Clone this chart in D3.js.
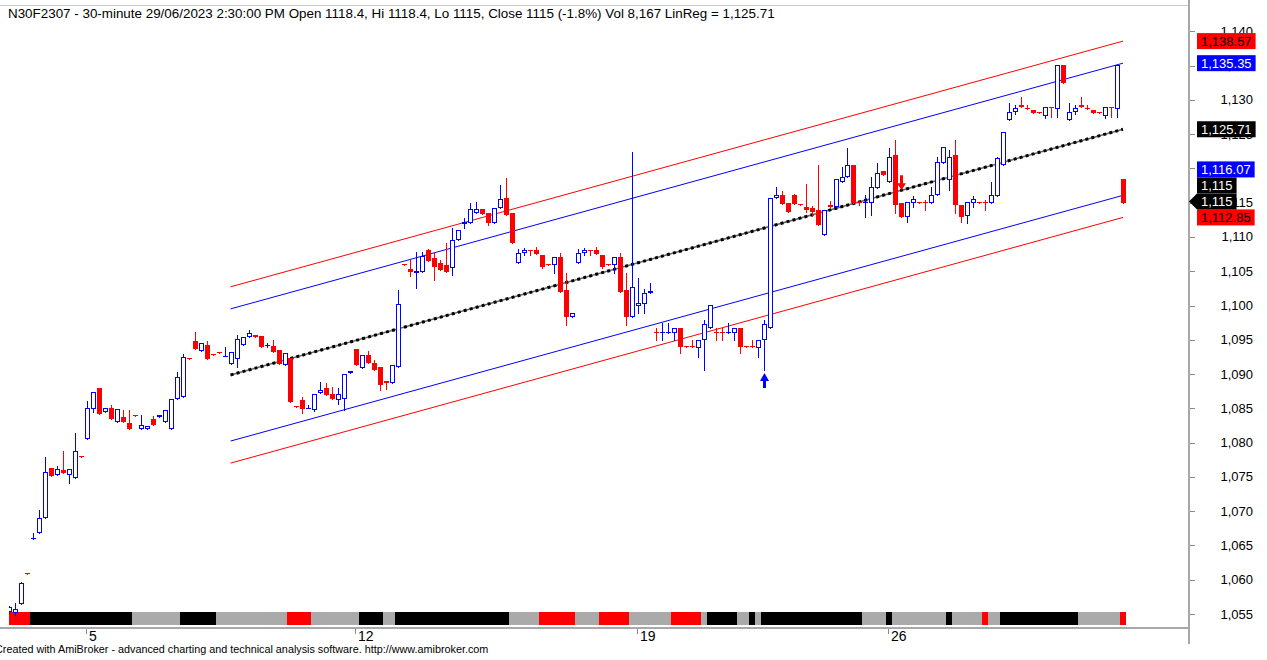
<!DOCTYPE html>
<html>
<head>
<meta charset="utf-8">
<style>
body { margin: 0; background: #fff; }
text { font-family: Arial, "Liberation Sans", sans-serif; }
</style>
</head>
<body>
<svg width="1267" height="660"></svg>
<script src="https://cdn.jsdelivr.net/npm/d3@7/dist/d3.min.js"></script>
<script>

// 30-minute bars, N30F2307, early June -> 29/06/2023 14:30
var opens = [1055.3,1055.2,1056.5,1061.0,1066.0,1066.8,1069.0,1076.3,1075.3,1076.0,
  1075.3,1074.8,1078.0,1080.5,1084.9,1088.0,1084.5,1085.1,1083.0,1083.7,
  1082.9,1084.0,1082.0,1082.0,1083.5,1083.7,1083.0,1082.0,1086.4,1086.7,
  1092.3,1094.8,1093.4,1094.2,1092.9,1093.2,1092.6,1091.5,1092.2,1094.2,
  1095.4,1095.7,1095.6,1094.2,1094.1,1093.5,1091.3,1092.3,1085.3,1086.2,
  1085.0,1084.8,1087.2,1088.0,1087.1,1086.2,1086.4,1090.1,1093.7,1090.9,
  1092.8,1091.6,1091.0,1089.0,1088.7,1091.0,1106.0,1105.3,1104.7,1104.9,
  1108.1,1106.9,1106.2,1105.9,1105.5,1109.6,1111.9,1112.0,1113.5,1114.1,
  1113.5,1112.0,1114.2,1115.7,1113.5,1106.2,1107.7,1108.1,1108.1,1107.4,
  1106.0,1105.9,1107.1,1102.3,1098.3,1106.2,1107.7,1108.1,1108.1,1107.4,
  1106.0,1105.9,1107.1,1102.3,1098.3,1100.0,1100.2,1101.8,1096.1,1096.0,
  1096.0,1096.0,1096.7,1094.1,1094.1,1093.8,1095.0,1096.7,1096.1,1096.1,
  1096.0,1096.0,1096.7,1094.1,1094.1,1093.8,1095.0,1096.7,1115.7,1116.1,
  1114.9,1116.1,1114.8,1114.4,1114.2,1113.9,1110.3,1114.7,1114.4,1118.0,
  1118.8,1120.5,1115.1,1114.9,1115.0,1117.1,1119.6,1118.0,1122.0,1115.0,
  1112.9,1115.0,1115.1,1115.1,1115.0,1116.1,1120.8,1118.3,1122.0,1114.7,
  1113.1,1115.0,1115.1,1115.1,1115.0,1116.0,1120.5,1127.1,1128.2,1129.3,
  1128.8,1128.5,1128.2,1127.6,1128.9,1128.7,1135.1,1127.1,1128.2,1129.3,
  1128.8,1128.5,1128.2,1127.6,1128.9,1128.7,1118.4];
var highs = [1056.2,1056.6,1059.6,1061.0,1066.8,1070.2,1077.9,1076.3,1076.6,1078.8,
  1076.2,1081.4,1078.0,1086.0,1087.4,1088.0,1085.1,1085.5,1084.9,1084.8,
  1084.8,1084.0,1084.0,1082.4,1083.9,1084.0,1084.8,1086.4,1090.3,1092.9,
  1092.3,1096.1,1094.5,1094.8,1092.9,1093.2,1094.0,1093.2,1095.7,1095.4,
  1096.4,1095.7,1095.6,1094.6,1095.0,1093.5,1093.1,1092.3,1085.3,1086.6,
  1085.5,1087.1,1088.8,1088.7,1088.1,1088.0,1090.0,1090.4,1093.7,1092.8,
  1093.3,1092.0,1091.0,1089.0,1091.3,1102.3,1106.0,1106.6,1107.8,1107.8,
  1108.3,1107.8,1106.6,1109.1,1111.3,1111.0,1112.8,1115.0,1115.1,1114.1,
  1113.5,1114.2,1117.6,1118.6,1113.5,1108.3,1108.4,1108.1,1108.6,1107.4,
  1106.0,1107.1,1107.7,1104.7,1098.9,1108.3,1108.4,1108.1,1108.6,1107.4,
  1106.0,1107.1,1107.7,1104.7,1122.4,1104.0,1102.4,1103.3,1096.7,1097.5,
  1097.5,1096.7,1096.7,1094.1,1095.0,1095.0,1097.9,1100.1,1096.7,1096.7,
  1097.5,1096.7,1096.7,1094.1,1095.0,1095.0,1097.9,1115.7,1117.3,1116.7,
  1114.9,1116.3,1114.8,1117.7,1114.5,1120.5,1113.9,1115.3,1118.5,1120.2,
  1123.0,1120.5,1115.3,1116.1,1118.8,1120.8,1119.6,1123.0,1124.2,1115.0,
  1115.1,1116.0,1115.1,1115.4,1117.3,1121.7,1123.1,1122.7,1124.2,1114.7,
  1115.1,1116.0,1115.1,1115.4,1118.0,1121.7,1125.3,1129.5,1129.2,1130.4,
  1129.2,1128.5,1128.2,1129.0,1128.9,1135.1,1135.1,1129.5,1129.2,1130.4,
  1129.2,1128.5,1128.2,1129.0,1128.9,1135.1,1118.4];
var lows = [1055.2,1054.9,1056.4,1060.9,1066.0,1066.8,1069.0,1075.1,1075.3,1075.6,
  1074.1,1074.8,1077.9,1080.5,1084.5,1084.2,1084.5,1083.5,1083.0,1083.0,
  1082.0,1083.9,1082.0,1082.0,1082.6,1083.7,1083.0,1082.0,1086.4,1086.7,
  1092.2,1093.7,1093.4,1092.2,1092.8,1093.1,1092.6,1091.5,1091.0,1094.2,
  1095.4,1095.4,1094.0,1094.0,1093.2,1091.4,1091.3,1085.9,1085.2,1084.3,
  1085.0,1084.6,1087.2,1087.0,1086.4,1085.6,1084.8,1090.1,1091.3,1090.9,
  1091.6,1090.6,1087.7,1087.8,1088.7,1091.0,1105.9,1104.3,1102.6,1104.9,
  1106.5,1103.7,1105.2,1104.9,1104.5,1109.6,1111.3,1112.0,1113.5,1113.4,
  1111.8,1112.0,1114.2,1113.2,1109.1,1106.2,1107.4,1107.4,1107.5,1105.5,
  1105.9,1104.7,1102.0,1097.2,1098.3,1106.2,1107.4,1107.4,1107.5,1105.5,
  1105.9,1104.7,1102.0,1097.2,1098.3,1098.9,1098.9,1101.8,1095.0,1095.0,
  1096.0,1095.0,1093.1,1094.0,1094.0,1092.5,1090.6,1096.7,1095.0,1095.0,
  1096.0,1095.0,1093.1,1094.0,1094.0,1092.5,1090.6,1096.7,1115.7,1114.8,
  1113.6,1114.8,1114.7,1113.6,1113.1,1111.8,1110.3,1114.4,1114.4,1118.0,
  1118.8,1115.0,1114.6,1112.9,1113.2,1117.1,1119.0,1118.0,1113.5,1112.9,
  1112.2,1114.4,1115.0,1113.9,1115.0,1116.1,1120.8,1116.9,1113.5,1112.2,
  1112.0,1114.4,1115.0,1113.9,1115.0,1116.0,1120.5,1127.1,1127.9,1129.0,
  1128.6,1128.1,1128.1,1127.4,1127.5,1127.5,1132.5,1127.1,1127.9,1129.0,
  1128.6,1128.1,1128.1,1127.4,1127.5,1127.5,1115.0];
var closes = [1056.0,1055.7,1059.5,1060.9,1066.1,1069.0,1075.7,1075.1,1076.2,1075.6,
  1076.2,1078.8,1077.9,1085.1,1087.4,1084.2,1085.1,1083.5,1084.9,1083.0,
  1082.0,1083.9,1082.6,1082.4,1082.6,1084.0,1084.8,1086.4,1089.6,1092.5,
  1092.2,1093.7,1094.5,1092.2,1092.8,1093.1,1092.7,1093.2,1095.1,1095.4,
  1096.0,1095.4,1094.0,1094.3,1093.2,1091.4,1093.1,1085.9,1085.2,1084.9,
  1085.1,1087.1,1087.7,1087.0,1086.4,1087.1,1090.0,1090.4,1091.3,1092.8,
  1091.6,1090.6,1088.4,1088.7,1091.3,1100.2,1105.9,1104.9,1105.0,1107.2,
  1106.5,1105.6,1105.2,1104.9,1109.6,1111.0,1112.2,1114.1,1114.1,1113.4,
  1112.0,1114.2,1115.5,1113.2,1109.1,1107.7,1108.1,1107.9,1107.5,1105.6,
  1105.9,1107.1,1102.0,1098.3,1098.9,1107.7,1108.1,1107.9,1107.5,1105.6,
  1105.9,1107.1,1102.0,1098.3,1102.7,1100.3,1101.8,1102.1,1096.0,1096.1,
  1096.1,1096.7,1094.0,1094.0,1094.0,1095.0,1097.3,1100.1,1096.0,1096.0,
  1096.1,1096.7,1094.0,1094.0,1094.0,1095.0,1097.3,1115.7,1116.1,1114.8,
  1113.6,1114.8,1114.7,1113.9,1113.6,1111.8,1113.9,1114.4,1118.5,1118.8,
  1120.5,1115.0,1114.9,1115.1,1117.3,1119.3,1119.0,1121.7,1114.7,1112.9,
  1115.1,1115.6,1115.0,1115.0,1116.1,1120.9,1123.1,1121.7,1114.7,1112.9,
  1115.1,1115.6,1115.0,1115.0,1116.1,1121.5,1125.3,1128.2,1128.8,1129.0,
  1128.6,1128.1,1128.1,1129.0,1128.8,1135.1,1132.5,1128.2,1128.8,1129.0,
  1128.6,1128.1,1128.1,1129.0,1128.8,1135.1,1115.0];

// ribbon under the bars: runs of colour codes and their lengths in bars
var stripCodes = ["r","k","g","k","g","r","g","k","g","k","g","r","g","r","g","r",
                  "g","k","g","k","g","k","g","k","g","k","g","r","g","k","g","r"];
var stripLens = [4,17,8,6,12,4,8,4,2,19,5,6,4,5,7,5,1,5,2,1,1,17,4,1,9,1,5,1,2,13,7,1];

// date axis
var dateBars = [13, 58, 105, 147];
var dateLabels = ["5", "12", "19", "26"];

// price axis
var priceTicks = d3.range(1055, 1141, 5);

// linear regression channel (first bar, last bar, values)
var regFirstBar = 37, regLastBar = 186;
var regFirst = 1089.87, regLast = 1125.71;
var bandEnds = [1138.57, 1135.35, 1116.07, 1112.85];
var bandColors = ["#ff0000", "#0000ff", "#0000ff", "#ff0000"];

// right-hand value labels (low to high)
var tagValues = [1112.85, 1115, 1115, 1116.07, 1125.71, 1135.35, 1138.57];
var tagFills = ["#ff0000", "#000000", "#000000", "#0000ff", "#000000", "#0000ff", "#ff0000"];
var tagArrow = [false, true, false, false, false, false, false];

// buy / sell arrows
var arrowBars = [126, 149];
var arrowDirs = ["up", "down"];

var titleText = "N30F2307 - 30-minute 29/06/2023 2:30:00 PM Open 1118.4, Hi 1118.4, Lo 1115, Close 1115 (-1.8%) Vol 8,167 LinReg = 1,125.71";
var footerText = "Created with AmiBroker - advanced charting and technical analysis software. http://www.amibroker.com";

var BLUE = "#0000ff", RED = "#ff0000", AXIS = "#a8a8a8";
var stripFill = {r: "#ff0000", k: "#000000", g: "#aaaaaa"};

var svg = d3.select("svg");
svg.append("rect").attr("width", 1267).attr("height", 660).attr("fill", "#fff");

var x = d3.scaleLinear().domain([0, opens.length - 1]).range([9, 1123]);
var y = d3.scaleLinear().domain([1055, 1140]).range([614, 31.3]);

svg.append("clipPath").attr("id", "plot")
  .append("rect").attr("x", 9).attr("y", 0).attr("width", 1180).attr("height", 627);

var plot = svg.append("g").attr("clip-path", "url(#plot)");

// ribbon, one run per rect so there are no seams
var strip = plot.append("g").attr("shape-rendering", "crispEdges");
var start = 0;
stripCodes.forEach(function(c, k) {
  var end = start + stripLens[k];
  var x0 = Math.round(x(start) - 3), x1 = Math.round(x(end) - 3);
  strip.append("rect")
    .attr("x", x0).attr("y", 612)
    .attr("width", x1 - x0).attr("height", 13)
    .attr("fill", stripFill[c]);
  start = end;
});

// channel lines
var span = regLast - regFirst;
bandEnds.forEach(function(v, k) {
  plot.append("line")
    .attr("x1", x(regFirstBar)).attr("y1", y(v - span))
    .attr("x2", x(regLastBar)).attr("y2", y(v))
    .attr("stroke", bandColors[k]).attr("stroke-width", 1);
});
plot.append("line")
  .attr("x1", x(regFirstBar)).attr("y1", y(regFirst))
  .attr("x2", x(regLastBar)).attr("y2", y(regLast))
  .attr("stroke", "#666").attr("stroke-width", 1.5);
plot.append("line")
  .attr("x1", x(regFirstBar)).attr("y1", y(regFirst))
  .attr("x2", x(regLastBar)).attr("y2", y(regLast))
  .attr("stroke", "#000").attr("stroke-width", 3)
  .attr("stroke-dasharray", "3,3.2");

// candles
var candles = plot.append("g").attr("shape-rendering", "crispEdges");
opens.forEach(function(o, i) {
  var c = closes[i], h = highs[i], l = lows[i];
  var xc = Math.round(x(i));
  var up = c > o;
  var col = up ? BLUE : RED;
  candles.append("line")
    .attr("x1", xc + 0.5).attr("x2", xc + 0.5)
    .attr("y1", Math.round(y(h))).attr("y2", Math.round(y(l)) + 1)
    .attr("stroke", col);
  var yt = Math.round(y(Math.max(o, c))), yb = Math.round(y(Math.min(o, c)));
  if (yb - yt < 2) {
    candles.append("rect").attr("x", xc - 2).attr("y", yt).attr("width", 5).attr("height", 1).attr("fill", col);
  } else if (up) {
    candles.append("rect").attr("x", xc - 1.5).attr("y", yt + 0.5)
      .attr("width", 4).attr("height", yb - yt - 1)
      .attr("fill", "#fff").attr("stroke", col);
  } else {
    candles.append("rect").attr("x", xc - 2).attr("y", yt)
      .attr("width", 5).attr("height", yb - yt).attr("fill", col);
  }
});

// arrows
arrowBars.forEach(function(b, k) {
  var xc = Math.round(x(b)) + 0.5, t, pts;
  if (arrowDirs[k] === "up") {
    t = y(lows[b]) + 3;
    pts = [[xc, t], [xc + 4.5, t + 8], [xc + 1.5, t + 8], [xc + 1.5, t + 15],
           [xc - 1.5, t + 15], [xc - 1.5, t + 8], [xc - 4.5, t + 8]];
    plot.append("polygon").attr("points", pts.join(" ")).attr("fill", BLUE);
  } else {
    t = y(highs[b]) - 12.5;
    pts = [[xc, t], [xc + 4.5, t - 7], [xc + 1.5, t - 7], [xc + 1.5, t - 15],
           [xc - 1.5, t - 15], [xc - 1.5, t - 7], [xc - 4.5, t - 7]];
    plot.append("polygon").attr("points", pts.join(" ")).attr("fill", RED);
  }
});

// frame lines
svg.append("line").attr("x1", 0).attr("x2", 1189).attr("y1", 5.5).attr("y2", 5.5)
  .attr("stroke", "#c8c8c8").attr("stroke-width", 1);
svg.append("line").attr("x1", 0).attr("x2", 1189).attr("y1", 628).attr("y2", 628)
  .attr("stroke", AXIS).attr("stroke-width", 2);
svg.append("line").attr("x1", 1189).attr("x2", 1189).attr("y1", 0).attr("y2", 644)
  .attr("stroke", AXIS).attr("stroke-width", 2);

// price axis ticks and labels
var fmt = d3.format(",");
var yAxis = svg.append("g");
priceTicks.forEach(function(v) {
  var yy = Math.round(y(v)) + 0.5;
  yAxis.append("line").attr("x1", 1190).attr("x2", 1195).attr("y1", yy).attr("y2", yy)
    .attr("stroke", "#888");
  yAxis.append("text").attr("x", 1253).attr("y", y(v) + 4.5)
    .attr("text-anchor", "end").attr("font-size", 13).attr("fill", "#000")
    .text(fmt(v));
});

// date axis
dateBars.forEach(function(b, k) {
  var xx = Math.round(x(b)) - 0.5;
  svg.append("line").attr("x1", xx).attr("x2", xx).attr("y1", 629).attr("y2", 634)
    .attr("stroke", "#888");
  svg.append("text").attr("x", xx + 2.5).attr("y", 641)
    .attr("font-size", 14).attr("fill", "#000").text(dateLabels[k]);
});

// value tags on the right
var prev = Infinity;
tagValues.forEach(function(v, k) {
  var cy = Math.min(y(v), prev - 16);
  prev = cy;
  var g = svg.append("g");
  var label = k === 1 || k === 2 ? fmt(v) : d3.format(",.2f")(v);
  var tx = g.append("text").attr("x", 1201).attr("y", cy + 4.5)
    .attr("font-size", 13).attr("fill", tagFills[k] === RED ? "#000" : "#fff")
    .text(label);
  var w = tx.node().getComputedTextLength() + 8;
  if (tagArrow[k]) {
    g.insert("polygon", "text")
      .attr("points", [[1189, cy], [1197, cy - 8], [1197 + w, cy - 8], [1197 + w, cy + 8], [1197, cy + 8]].join(" "))
      .attr("fill", tagFills[k]);
  } else {
    g.insert("rect", "text").attr("x", 1197).attr("y", cy - 8).attr("width", w).attr("height", 16)
      .attr("fill", tagFills[k]);
  }
});

// title and footer
svg.append("text").attr("x", 8).attr("y", 18).attr("font-size", 13.4).attr("fill", "#000").text(titleText);
svg.append("text").attr("x", -5).attr("y", 653).attr("font-size", 10.8).attr("fill", "#000").text(footerText);

</script>
</body>
</html>
